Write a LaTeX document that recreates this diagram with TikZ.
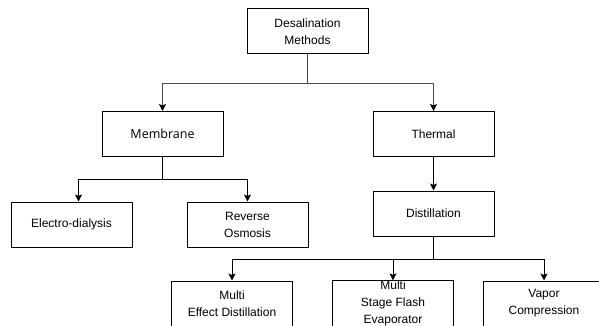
\documentclass[tikz,border=0pt]{standalone}
\usepackage{fontspec}
\setmainfont{Liberation Sans}
\newfontfamily\membranefont{Open Sans}
\usetikzlibrary{arrows.meta}
\tikzset{
    box/.style={draw, line width=1pt, minimum width=121pt, minimum height=45pt,
        align=center, inner sep=0pt, font=\fontsize{12}{17}\selectfont},
    link/.style={line width=1pt, -{Stealth[length=7pt,width=7pt,inset=1.5pt,black]}}
}
\begin{document}
\begin{tikzpicture}[x=1pt, y=1pt]
        \clip (0,0) rectangle (599,-326);
        \coordinate (R) at (307.5,-31.5);
        \coordinate (M) at (162.5,-134);
        \coordinate (T) at (433.5,-134);
        \coordinate (E) at (71.5,-224.5);
        \coordinate (O) at (247.5,-224.5);
        \coordinate (D) at (433.5,-213.5);
        \node [box] (root)  at (R) {Desalination\\Methods};
        \node [box, font=\membranefont\fontsize{12.5}{17}\selectfont] (mem) at (M) {Membrane};
        \node [box] (therm) at (T) {Thermal};
        \node [box] (ed)    at (E) {Electro-dialysis};
        \node [box] (ro)    at (O) {Reverse\\Osmosis};
        \node [box] (dist)  at (D) {Distillation};
        \node [box] (med)   at (232,-303.5) {Multi\\Effect Distillation};
        \node [box] (msf)   at (393,-303.5) {Multi\\Stage Flash\\Evaporator};
        \node [box] (vc)    at (544,-303.5) {Vapor\\Compression};
        \draw [link, black!70] (root.south) -- ++(0,-29) -| (mem.north);
        \draw [link, black!70] (root.south) -- ++(0,-29) -| (therm.north);
        \draw [link] (mem.south) -- ++(0,-22) -| ([xshift=7pt]ed.north);
        \draw [link] (mem.south) -- ++(0,-22) -| (ro.north);
        \draw [link] (therm.south) -- (dist.north);
        \draw [link] (dist.south) -- ++(0,-23) -| (med.north);
        \draw [link] (dist.south) -- ++(0,-23) -| (msf.north);
        \draw [link] (dist.south) -- ++(0,-23) -| (vc.north);
    \end{tikzpicture}
\end{document}
